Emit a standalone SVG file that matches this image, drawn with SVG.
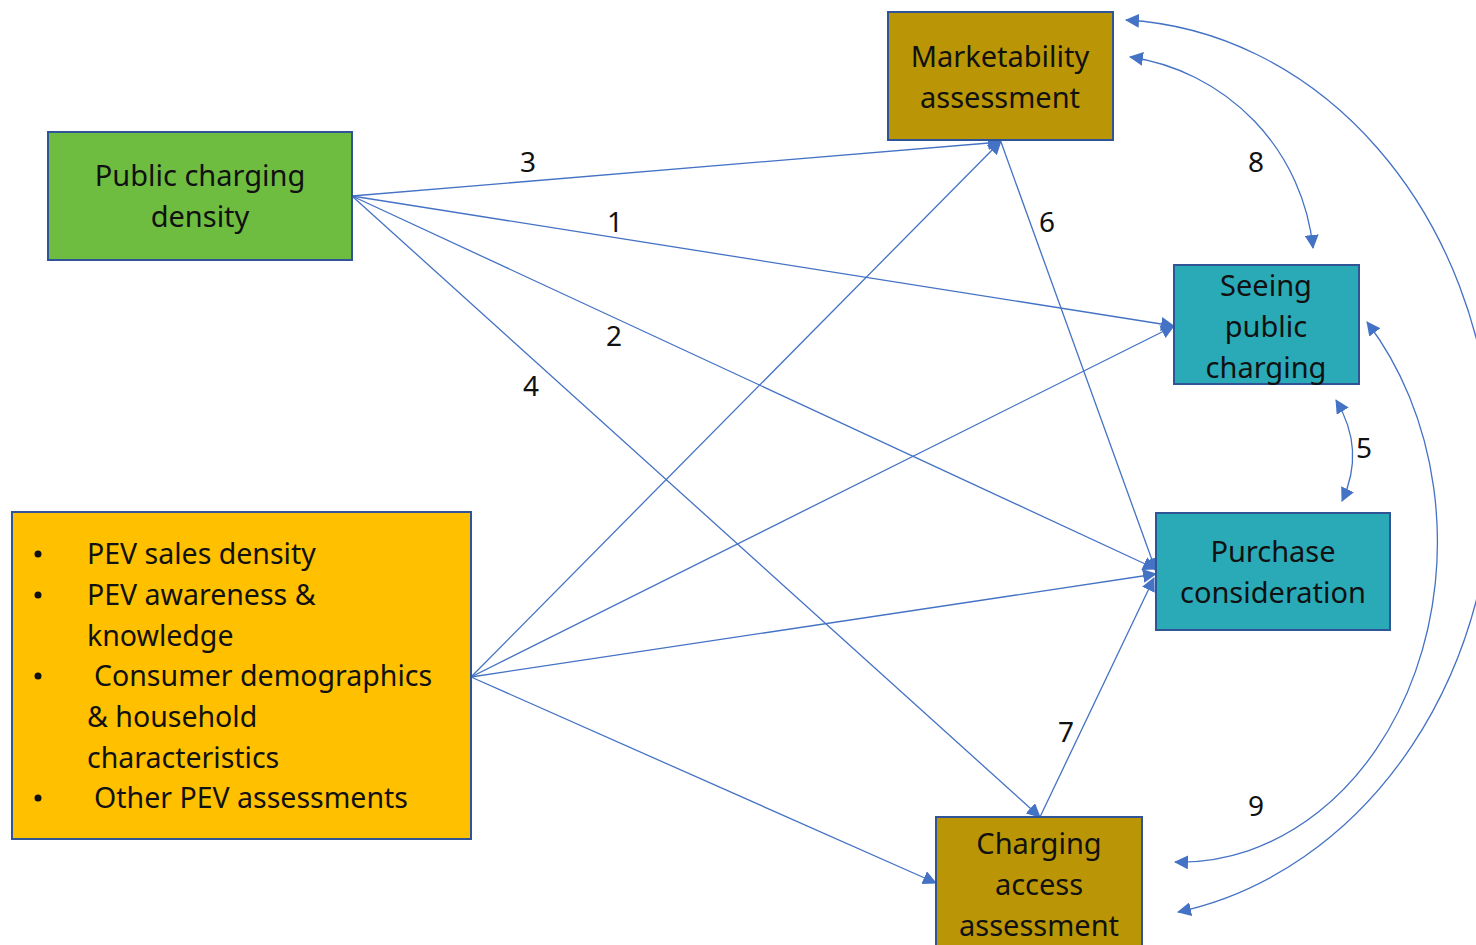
<svg xmlns="http://www.w3.org/2000/svg" width="1476" height="945" viewBox="0 0 1476 945">
  <style>
    .box { stroke: #2F5597; stroke-width: 2; }
    .green { fill: #6EBD40; }
    .gold { fill: #BA9606; }
    .teal { fill: #2AAAB7; }
    .amber { fill: #FFC000; }
    .t { font-family: "Noto Sans", "Open Sans", sans-serif; font-size: 29px; fill: #111; text-anchor: middle; }
    .lt { font-family: "Noto Sans", "Open Sans", sans-serif; font-size: 28.5px; fill: #111; }
    .num { font-family: "Noto Sans", "Open Sans", sans-serif; font-size: 28px; fill: #111; text-anchor: middle; }
    .e { fill: none; stroke: #4472C4; stroke-width: 1.3; }
    .a { marker-end: url(#ah); }
    .b { marker-start: url(#ah); marker-end: url(#ah); }
  </style>
  <defs>
    <marker id="ah" markerUnits="userSpaceOnUse" markerWidth="16" markerHeight="14" refX="13" refY="7" orient="auto-start-reverse">
      <path d="M0,0 L14,7 L0,14 Z" fill="#4472C4"/>
    </marker>
  </defs>
  <rect width="1476" height="945" fill="#fff"/>

  <!-- connectors -->
  <g id="connectors">
    <!-- from public charging density -->
    <line class="e a" x1="352" y1="196" x2="1001" y2="142"/>
    <line class="e a" x1="352" y1="196" x2="1174" y2="326"/>
    <line class="e a" x1="352" y1="196" x2="1156" y2="569"/>
    <line class="e a" x1="352" y1="196" x2="1040" y2="817"/>
    <!-- from background characteristics -->
    <line class="e a" x1="471" y1="677" x2="1001" y2="141"/>
    <line class="e a" x1="471" y1="677" x2="1174" y2="326"/>
    <line class="e a" x1="471" y1="677" x2="1156" y2="574"/>
    <line class="e a" x1="471" y1="677" x2="936" y2="883"/>
    <!-- marketability and charging access to purchase -->
    <line class="e a" x1="1001" y1="142" x2="1156" y2="571"/>
    <line class="e a" x1="1040" y1="817" x2="1154" y2="578"/>
    <!-- two-way links -->
    <path class="e b" d="M1130,57 A 215 215 0 0 1 1313,248"/>
    <path class="e b" d="M1336,400 Q1366,450 1342,501"/>
    <path class="e b" d="M1367,322 A 257 320 0 0 1 1175,862"/>
    <path class="e b" d="M1126,20 A 385 450 0 0 1 1178,912"/>
    <!-- path numbers -->
    <text class="num" x="528" y="172">3</text>
    <text class="num" x="615" y="232">1</text>
    <text class="num" x="614" y="346">2</text>
    <text class="num" x="531" y="396">4</text>
    <text class="num" x="1047" y="232">6</text>
    <text class="num" x="1066" y="742">7</text>
    <text class="num" x="1256" y="172">8</text>
    <text class="num" x="1364" y="458">5</text>
    <text class="num" x="1256" y="816">9</text>
  </g>

  <g id="public-charging-density">
    <rect class="box green" x="48" y="132" width="304" height="128"/>
    <text class="t" x="200" y="186">Public charging</text>
    <text class="t" x="200" y="227">density</text>
  </g>

  <g id="marketability-assessment">
    <rect class="box gold" x="888" y="12" width="225" height="128"/>
    <text class="t" x="1000" y="67">Marketability</text>
    <text class="t" x="1000" y="108">assessment</text>
  </g>

  <g id="seeing-public-charging">
    <rect class="box teal" x="1174" y="265" width="185" height="119"/>
    <text class="t" x="1266" y="296">Seeing</text>
    <text class="t" x="1266" y="337">public</text>
    <text class="t" x="1266" y="378">charging</text>
  </g>

  <g id="purchase-consideration">
    <rect class="box teal" x="1156" y="513" width="234" height="117"/>
    <text class="t" x="1273" y="562">Purchase</text>
    <text class="t" x="1273" y="603">consideration</text>
  </g>

  <g id="charging-access-assessment">
    <rect class="box gold" x="936" y="817" width="206" height="140"/>
    <text class="t" x="1039" y="854">Charging</text>
    <text class="t" x="1039" y="895">access</text>
    <text class="t" x="1039" y="936">assessment</text>
  </g>

  <g id="consumer-factors">
    <rect class="box amber" x="12" y="512" width="459" height="327"/>
    <circle cx="38" cy="554" r="3.5" fill="#111"/>
    <circle cx="38" cy="595" r="3.5" fill="#111"/>
    <circle cx="38" cy="676" r="3.5" fill="#111"/>
    <circle cx="38" cy="798" r="3.5" fill="#111"/>
    <text class="lt" x="87" y="564">PEV sales density</text>
    <text class="lt" x="87" y="605">PEV awareness &amp;</text>
    <text class="lt" x="87" y="646">knowledge</text>
    <text class="lt" x="94" y="686">Consumer demographics</text>
    <text class="lt" x="87" y="727">&amp; household</text>
    <text class="lt" x="87" y="768">characteristics</text>
    <text class="lt" x="94" y="808">Other PEV assessments</text>
  </g>
</svg>
